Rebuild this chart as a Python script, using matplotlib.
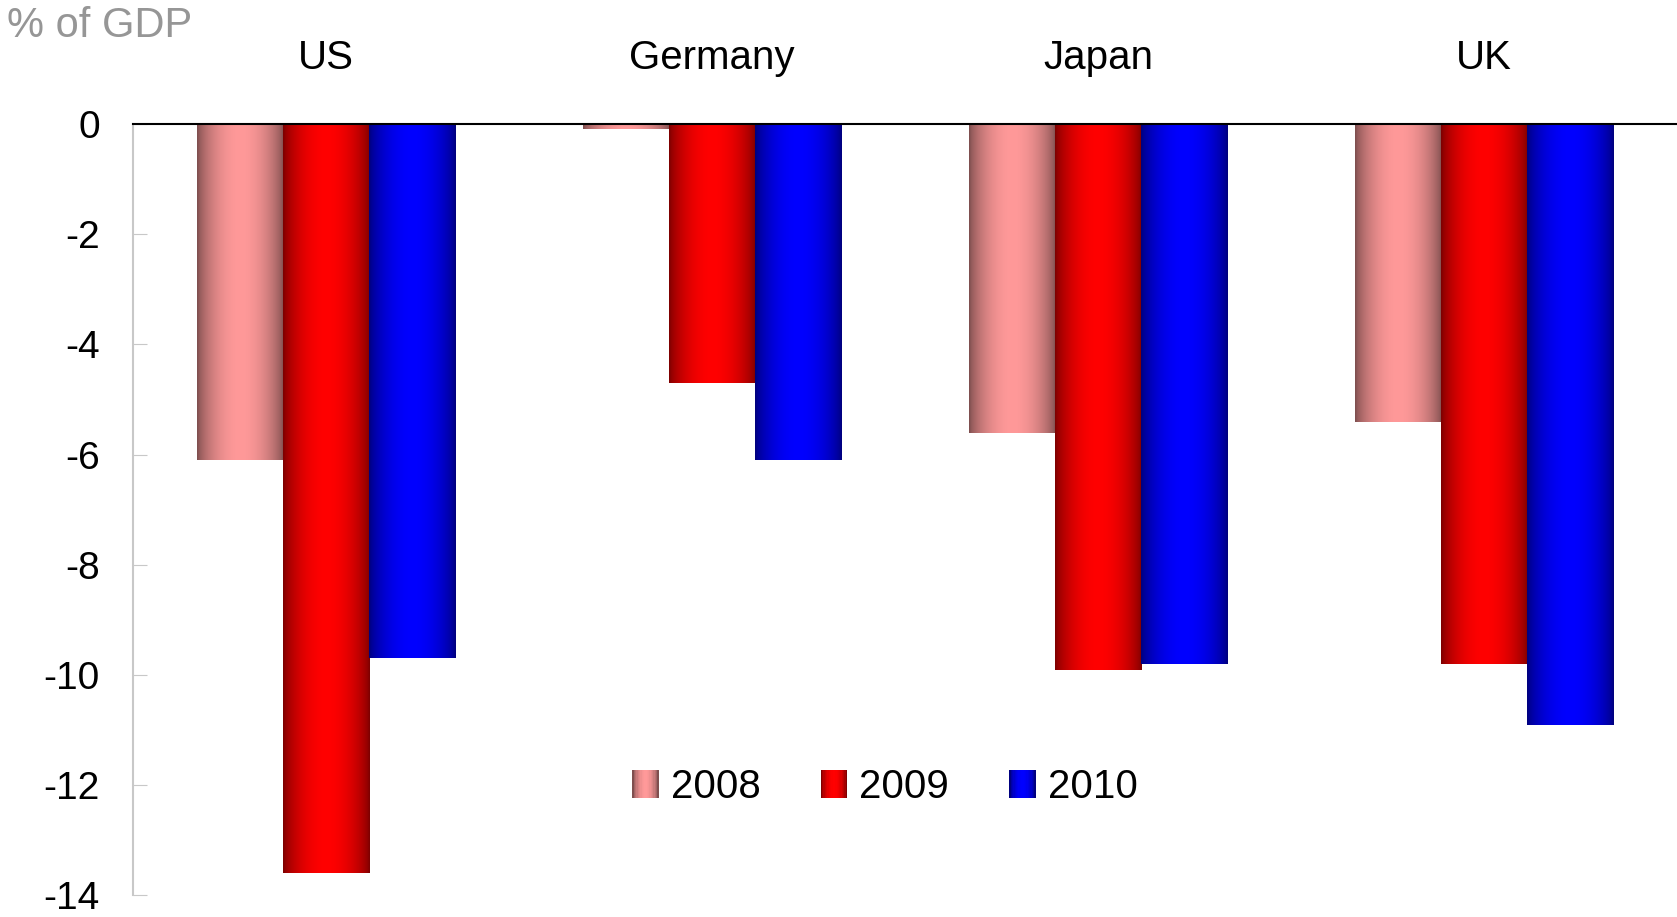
import numpy as np
import matplotlib
matplotlib.use("Agg")
import matplotlib.pyplot as plt
from matplotlib.patches import Rectangle
from matplotlib.legend_handler import HandlerBase

plt.rcParams['font.family'] = ['Liberation Sans', 'DejaVu Sans']
plt.rcParams['axes.unicode_minus'] = False

# data (% of GDP)
countries = ["US", "Germany", "Japan", "UK"]
years = ["2008", "2009", "2010"]
v2008 = [-6.1, -0.1, -5.6, -5.4]
v2009 = [-13.6, -4.7, -9.9, -9.8]
v2010 = [-9.7, -6.1, -9.8, -10.9]
series = [v2008, v2009, v2010]

# edge (dark) and centre (light) colours of each cylinder-like bar
dark = [(0.50, 0.31, 0.31), (0.50, 0.0, 0.0), (0.0, 0.0, 0.50)]
light = [(1.0, 0.60, 0.60), (1.0, 0.0, 0.0), (0.0, 0.0, 1.0)]


def gradient(i, n=64):
    t = np.linspace(0, 1, n)
    f = np.sin(np.pi * t) ** 0.7
    d = np.array(dark[i])
    l = np.array(light[i])
    return d[None, :] + (l - d)[None, :] * f[:, None]


class GradHandler(HandlerBase):
    def __init__(self, idx):
        super().__init__()
        self.idx = idx

    def create_artists(self, legend, orig_handle, xdescent, ydescent,
                       width, height, fontsize, trans):
        cols = gradient(self.idx, 20)
        n = len(cols)
        arts = []
        for k, c in enumerate(cols):
            r = Rectangle((-xdescent + width * k / n, -ydescent), width / n + 0.05, height,
                          facecolor=c, edgecolor='none', transform=trans)
            arts.append(r)
        return arts


fig = plt.figure(figsize=(16.77, 9.17), dpi=100)
ax = fig.add_axes([0.0793, 0.0235, 0.9207, 0.8413])

x = np.arange(len(countries))
w = 0.223
handles = []
for i, vals in enumerate(series):
    bars = ax.bar(x + (i - 1) * w, vals, w, color=light[i], label=years[i], zorder=2)
    handles.append(bars)
    img = gradient(i)[None, :, :]
    for b in bars:
        x0, y0 = b.get_x(), b.get_y()
        bw, bh = b.get_width(), b.get_height()
        ax.imshow(img, extent=(x0, x0 + bw, y0 + bh, y0), aspect='auto',
                  interpolation='bilinear', zorder=3)

ax.set_xlim(-0.5, 3.5)
ax.set_ylim(-14, 0)
ax.set_yticks(range(-14, 1, 2))
ax.set_xticks(x)
ax.set_xticklabels(countries)
ax.xaxis.tick_top()
ax.tick_params(axis='x', length=0, pad=34, labelsize=29)
ax.tick_params(axis='y', direction='in', length=10, color='#c8c8c8', pad=24, labelsize=28)

for s in ['right', 'bottom']:
    ax.spines[s].set_visible(False)
ax.spines['left'].set_color('#c8c8c8')
ax.spines['left'].set_linewidth(1.5)
ax.spines['top'].set_color('black')
ax.spines['top'].set_linewidth(1.5)
ax.spines['top'].set_zorder(5)

ax.legend(handles, years, loc='center', bbox_to_anchor=(0.487, 0.14), ncol=3,
          frameon=False, fontsize=29, handlelength=0.65, handleheight=0.7,
          handletextpad=0.3, columnspacing=1.5,
          handler_map={handles[0]: GradHandler(0), handles[1]: GradHandler(1),
                       handles[2]: GradHandler(2)})

fig.text(0.004, 0.972, "% of GDP", color='#969696', fontsize=30, va='center', ha='left')

fig.savefig("out.png", dpi=100)
